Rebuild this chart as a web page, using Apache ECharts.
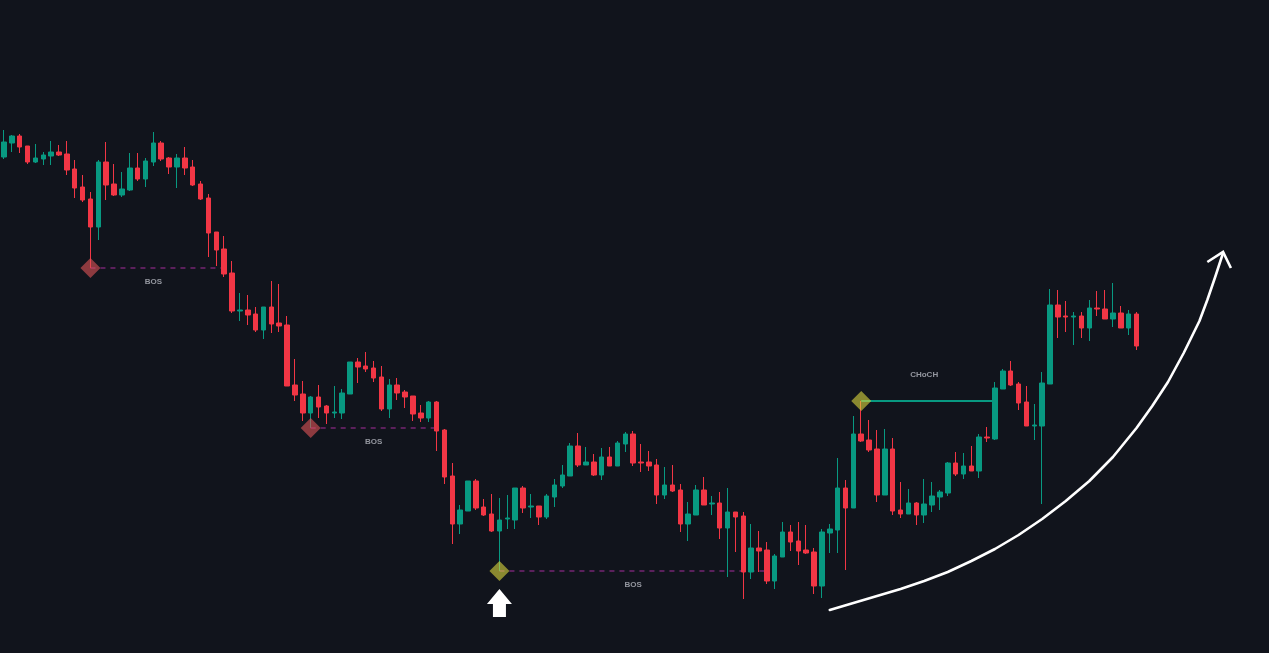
<!DOCTYPE html>
<html><head><meta charset="utf-8">
<script src="https://cdn.jsdelivr.net/npm/echarts@6/dist/echarts.min.js"></script>
<style>html,body{margin:0;padding:0;background:#11141c;}#c{width:1269px;height:653px;}</style>
</head><body><div id="c"></div>
<script>
// Candle OHLC values (arbitrary price units)
const opens  = [496,510,517,507,491,494,497,501,499,484,466,454,426,491,469,458,463,485,474,491,510,495,486,495,486,469,455,421,404,380,
342,343,339,323,346,330,328,268,259,240,256,247,240,240,259,291,287,285,276,244,268,261,257,240,235,251,223,177,129,142,
172,146,139,122,134,133,165,146,147,136,156,167,177,207,188,191,178,196,187,209,219,191,191,188,158,168,163,129,138,163,
149,150,125,141,137,81,105,103,72,96,121,112,103,101,67,120,123,165,145,219,213,204,158,204,143,139,150,138,148,156,
160,190,179,187,182,216,214,264,282,269,251,227,227,269,348,337,336,337,325,345,344,334,340,325,339];
const closes = [511,517,506,491,495,498,501,498,483,465,453,426,491,468,458,464,485,474,492,510,494,486,495,485,468,454,420,403,379,342,
343,338,323,346,329,327,267,258,240,256,246,240,241,260,291,286,284,275,244,268,260,256,239,235,251,222,176,129,143,172,
145,138,122,133,135,165,145,147,136,157,168,178,207,188,191,178,196,187,210,219,190,190,187,158,168,162,129,139,163,148,
150,125,141,136,81,105,102,72,97,121,111,102,100,67,121,124,165,145,219,212,203,158,204,142,139,150,138,149,157,161,
190,179,187,182,216,215,265,282,268,250,227,228,270,348,336,336,337,325,345,344,334,340,325,339,307];
const lows   = [494,501,500,489,490,488,488,497,478,455,451,385,413,453,457,456,462,472,466,487,492,479,465,478,467,453,396,387,376,340,
332,328,321,314,320,321,267,252,232,225,235,229,235,234,259,270,281,271,242,235,253,245,232,231,231,202,169,109,119,142,
143,137,121,82,124,124,140,135,128,134,146,165,177,186,188,177,173,187,187,201,187,181,182,149,154,161,121,112,138,148,
138,114,76,101,54,74,81,69,64,96,102,88,99,59,55,100,100,83,145,211,201,151,158,138,135,139,128,130,141,143,
157,177,174,182,175,211,213,264,267,243,227,213,149,269,315,321,308,315,312,337,334,326,325,318,303];
const highs  = [523,518,519,507,509,501,512,508,512,493,478,461,493,511,489,481,500,500,495,521,512,496,499,506,493,472,459,421,417,392,
360,358,346,346,372,369,337,294,272,257,268,248,267,264,291,295,301,292,287,274,275,263,257,248,252,252,224,190,148,172,
174,154,159,155,158,165,167,159,147,159,174,188,210,220,206,199,205,206,212,221,222,209,202,194,186,188,169,151,168,176,
157,161,165,141,141,129,122,111,99,131,128,131,128,105,124,129,195,173,237,252,233,223,224,215,171,164,151,174,171,163,
191,201,200,207,219,226,271,284,292,271,267,249,281,364,363,352,341,341,353,362,363,370,347,343,341];
const slotCount = 161; // candle slots across the full width (last ones empty)
const categories = Array.from({length: slotCount}, (_, i) => 'Bar ' + (i + 1));

// Structure annotations: [startIndex, endIndex, price]
const bosLevels   = [[11, 28, 385], [39, 55, 225], [63, 97, 82]];
const chochLevel  = [109, 126, 252];
const redDiamonds = [[11, 385], [39, 225]];
const oliveDiamonds = [[63, 82], [109, 252]];
const textLabels  = [['BOS', 19, 371], ['BOS', 47, 211], ['BOS', 80, 68], ['CHoCH', 117, 278]];
const upArrowAt   = [63, 50];
const curvePts    = [[105,43],[108,50],[111,57],[114,64],[117,72],[120,81],[123,92],[126,104],[129,118],[132,134],
                     [135,152],[138,172],[141,196],[144,225],[146,247],[148,271],[150,300],[152,332],[153,353],[154,376],[155,400]];
const arrowHead   = [[153,391],[155,401],[156,385]];

const GREEN = '#089981', RED = '#f23645';
const ohlc = opens.map((o, i) => [o, closes[i], lows[i], highs[i]]);

const chart = echarts.init(document.getElementById('c'), null, {renderer: 'canvas'});
const levelSeries = bosLevels.map(l => ({
  type: 'line', z: 1, symbol: 'none', silent: true,
  data: [[l[0], l[2]], [l[1], l[2]]],
  lineStyle: {color: '#8e2a86', width: 1.2, type: [5, 5]}
}));
chart.setOption({
  animation: false,
  backgroundColor: '#11141c',
  grid: {left: -1.6, right: 2.7, top: 0, bottom: 0},
  xAxis: {type: 'category', data: categories, show: false, boundaryGap: true},
  yAxis: {type: 'value', min: 0, max: 653, show: false},
  series: [
    ...levelSeries,
    {type: 'line', z: 1, symbol: 'none', silent: true,
     data: [[chochLevel[0], chochLevel[2]], [chochLevel[1], chochLevel[2]]],
     lineStyle: {color: GREEN, width: 2}},
    {type: 'candlestick', z: 2, data: ohlc, barWidth: 5,
     itemStyle: {color: GREEN, color0: RED, borderColor: GREEN, borderColor0: RED, borderWidth: 1}},
    {type: 'scatter', z: 3, symbol: 'diamond', symbolSize: 20, silent: true,
     data: redDiamonds, itemStyle: {color: 'rgba(225,83,86,0.6)', opacity: 1}},
    {type: 'scatter', z: 3, symbol: 'diamond', symbolSize: 20, silent: true,
     data: oliveDiamonds, itemStyle: {color: 'rgba(220,215,61,0.6)', opacity: 1}},
    {type: 'scatter', z: 4, symbolSize: 0, silent: true,
     data: textLabels.map(t => ({name: t[0], value: [t[1], t[2]]})),
     label: {show: true, position: 'inside', formatter: p => p.name,
             color: '#b4b7bf', fontSize: 8, fontWeight: 'bold', fontFamily: 'Liberation Sans, Arial, sans-serif'}},
    {type: 'scatter', z: 4, silent: true, data: [upArrowAt],
     symbol: 'path://M12.5,0 L25,15 L19,15 L19,28 L6,28 L6,15 L0,15 Z',
     symbolSize: [25, 28], itemStyle: {color: '#ffffff', opacity: 1}},
    {type: 'line', z: 4, symbol: 'none', smooth: false, silent: true, data: curvePts,
     lineStyle: {color: '#ffffff', width: 2.6, join: 'round', cap: 'round'}},
    {type: 'line', z: 4, symbol: 'none', silent: true, data: arrowHead,
     lineStyle: {color: '#ffffff', width: 2.6, join: 'miter'}}
  ]
});
</script>
</body></html>
